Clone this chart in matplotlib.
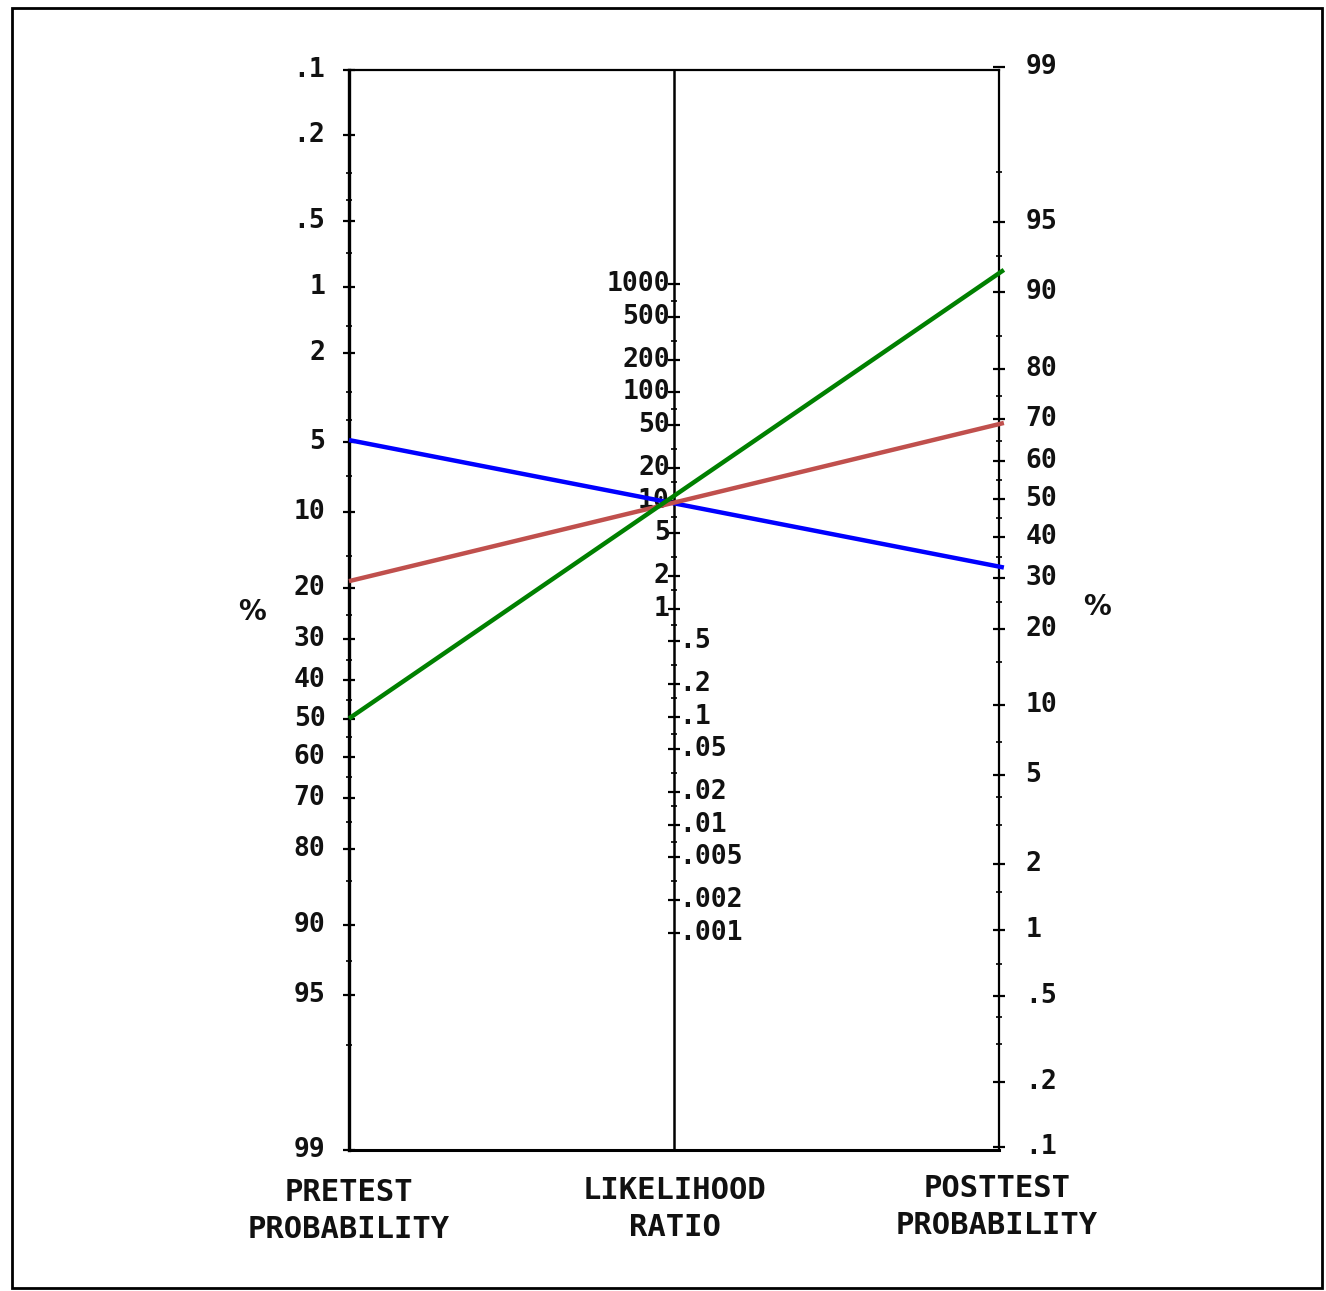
import numpy as np
import matplotlib
matplotlib.use("Agg")
import matplotlib.pyplot as plt
from matplotlib.patches import Rectangle

# scale labels
pre_ticks = [0.1, 0.2, 0.5, 1, 2, 5, 10, 20, 30, 40, 50, 60, 70, 80, 90, 95, 99]
pre_labels = ['.1', '.2', '.5', '1', '2', '5', '10', '20', '30', '40', '50',
              '60', '70', '80', '90', '95', '99']
post_ticks = [99, 95, 90, 80, 70, 60, 50, 40, 30, 20, 10, 5, 2, 1, 0.5, 0.2, 0.1]
post_labels = ['99', '95', '90', '80', '70', '60', '50', '40', '30', '20', '10',
               '5', '2', '1', '.5', '.2', '.1']
lr_up = [1000, 500, 200, 100, 50, 20, 10, 5, 2, 1]
lr_up_labels = ['1000', '500', '200', '100', '50', '20', '10', '5', '2', '1']
lr_down = [0.5, 0.2, 0.1, 0.05, 0.02, 0.01, 0.005, 0.002, 0.001]
lr_down_labels = ['.5', '.2', '.1', '.05', '.02', '.01', '.005', '.002', '.001']
minor_prob = [0.3, 0.4, 0.7, 1.5, 3, 4, 7, 15, 25, 35, 45, 55, 65, 75, 85, 93, 97]
minor_lr = [700, 300, 70, 30, 15, 7, 3, 1.5, 0.7, 0.3, 0.15, 0.07, 0.03, 0.015, 0.007, 0.003]

# drawn lines (pretest %, posttest %)
line_pre = [4.9, 18.8, 50]
line_post = [32.7, 68.9, 91.7]
line_colors = ['#0000ff', '#c0504d', '#008000']

C = -2.34  # offset of the posttest scale


def logit(p):
    p = np.asarray(p, dtype=float) / 100.0
    return np.log(p / (1 - p))


def y_pre(p):
    return logit(p)


def y_post(p):
    return C - logit(p)


def y_lr(r):
    return (C - np.log(np.asarray(r, dtype=float))) / 2


W, H = 1326, 1291
fig = plt.figure(figsize=(W / 100, H / 100), dpi=100)
ax = fig.add_axes([349 / W, 1 - 1150 / H, 650 / W, 1080 / H])
ax.set_xlim(0, 2)
ax.set_ylim(y_pre(99), y_pre(0.1))
ax.set_xticks([])
ax.set_yticks([])
for s in ['left', 'right', 'top', 'bottom']:
    ax.spines[s].set_linewidth(1.6)
ax.spines['left'].set_linewidth(2.4)
ax.spines['bottom'].set_linewidth(2.2)
ax.axvline(1, color='black', lw=1.8)

font = dict(family='DejaVu Sans Mono', fontweight='bold', fontsize=19, color='#111111')

# tick crosses
ax.plot(np.zeros(len(pre_ticks)), y_pre(pre_ticks), ls='none', marker='_',
        ms=9, mew=1.6, color='black', clip_on=False)
ax.plot(np.full(len(post_ticks), 2.0), y_post(post_ticks), ls='none', marker='_',
        ms=9, mew=1.6, color='black', clip_on=False)
ax.plot(np.ones(len(lr_up) + len(lr_down)), y_lr(lr_up + lr_down), ls='none',
        marker='_', ms=9, mew=1.6, color='black', clip_on=False)
ax.plot(np.zeros(len(minor_prob)), y_pre(minor_prob), ls='none', marker='_',
        ms=4, mew=1.2, color='black', clip_on=False)
ax.plot(np.full(len(minor_prob), 2.0), y_post(minor_prob), ls='none', marker='_',
        ms=4, mew=1.2, color='black', clip_on=False)
ax.plot(np.ones(len(minor_lr)), y_lr(minor_lr), ls='none', marker='_',
        ms=4, mew=1.2, color='black', clip_on=False)

# tick labels
for v, t in zip(pre_ticks, pre_labels):
    ax.annotate(t, (0, y_pre(v)), xytext=(-17, 0), textcoords='offset points',
                ha='right', va='center', annotation_clip=False, **font)
for v, t in zip(post_ticks, post_labels):
    ax.annotate(t, (2, y_post(v)), xytext=(19, 0), textcoords='offset points',
                ha='left', va='center', annotation_clip=False, **font)
for v, t in zip(lr_up, lr_up_labels):
    ax.annotate(t, (1, y_lr(v)), xytext=(-3, 0), textcoords='offset points',
                ha='right', va='center', annotation_clip=False, **font)
for v, t in zip(lr_down, lr_down_labels):
    ax.annotate(t, (1, y_lr(v)), xytext=(4, 0), textcoords='offset points',
                ha='left', va='center', annotation_clip=False, **font)

# lines through the nomogram
for p0, p1, c in zip(line_pre, line_post, line_colors):
    y0, y1 = y_pre(p0), y_post(p1)
    xs = np.array([0, 2.015])
    ax.plot(xs, y0 + (y1 - y0) * xs / 2, color=c, lw=3.2, clip_on=False,
            solid_capstyle='butt', zorder=5)

# percent signs
pfont = dict(family='DejaVu Sans', fontweight='bold', fontsize=20, color='#111111')
fig.text(252 / W, 1 - 612 / H, '%', ha='center', va='center', **pfont)
fig.text(1097 / W, 1 - 607 / H, '%', ha='center', va='center', **pfont)

# scale titles
tfont = dict(font, fontsize=22)
fig.text(349 / W, 1 - 1211 / H, 'PRETEST\nPROBABILITY', ha='center', va='center',
         linespacing=1.35, **tfont)
fig.text(675 / W, 1 - 1209 / H, 'LIKELIHOOD\nRATIO', ha='center', va='center',
         linespacing=1.35, **tfont)
fig.text(997 / W, 1 - 1207 / H, 'POSTTEST\nPROBABILITY', ha='center', va='center',
         linespacing=1.35, **tfont)

# outer frame
fig.patches.append(Rectangle((12 / W, 1 - 1288 / H), 1310 / W, 1280 / H,
                             transform=fig.transFigure, fill=False, lw=2,
                             edgecolor='black'))

fig.savefig('out.png', dpi=100)
